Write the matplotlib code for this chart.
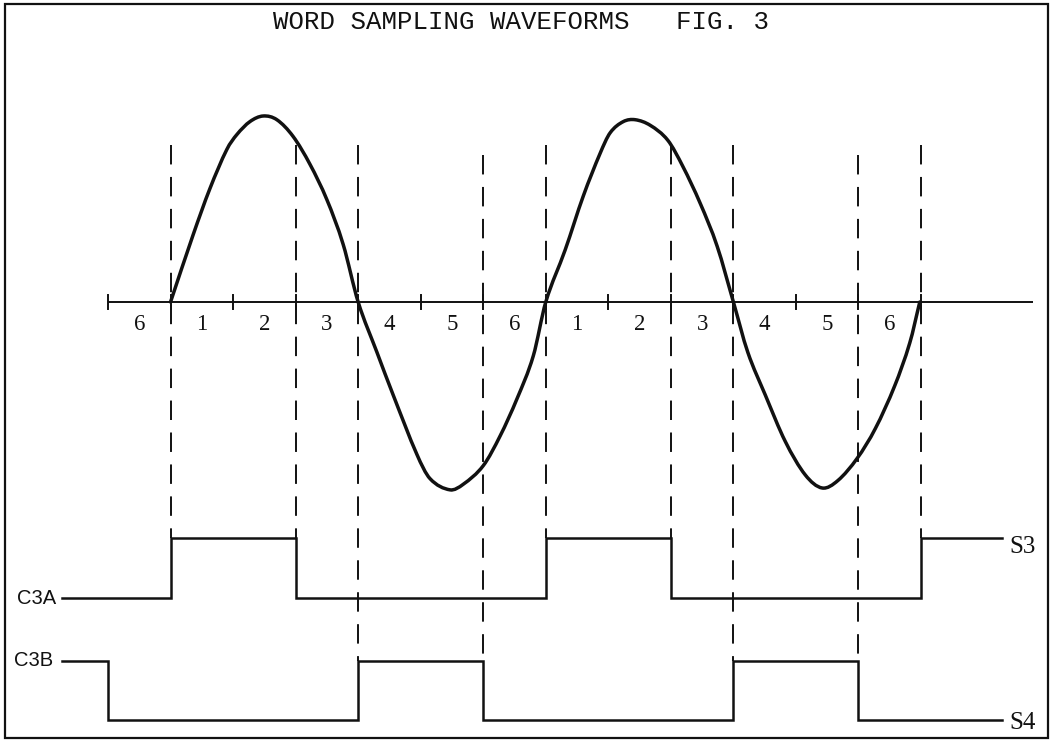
import matplotlib
matplotlib.use("Agg")
import matplotlib.pyplot as plt
from matplotlib.patches import Rectangle, PathPatch
from matplotlib.path import Path

# ---------------- data ----------------
title_text = "WORD SAMPLING WAVEFORMS   FIG. 3"
slot_labels = ['6', '1', '2', '3', '4', '5', '6', '1', '2', '3', '4', '5', '6']
tick_positions = list(range(14))          # slot boundaries on the time axis

# sampled waveform (time in slot units, amplitude relative to peak)
wave_t = [1.00, 1.36, 1.63, 1.90, 2.06, 2.27, 2.48, 2.70, 2.96, 3.23, 3.50, 3.76, 4.00,
          4.30, 4.56, 4.94, 5.15, 5.47, 5.68, 6.00, 6.27, 6.54, 6.80, 7.00,
          7.31, 7.60, 7.87, 8.03, 8.24, 8.43, 8.67, 8.95, 9.19, 9.47, 9.74, 10.00,
          10.23, 10.51, 10.83, 11.15, 11.42, 11.67, 11.98, 12.27, 12.58, 12.82, 12.98]
wave_v = [0.00, 0.36, 0.61, 0.82, 0.90, 0.97, 1.00, 0.98, 0.89, 0.74, 0.55, 0.31, 0.00,
          -0.27, -0.50, -0.82, -0.95, -1.01, -0.98, -0.88, -0.72, -0.52, -0.29, 0.00,
          0.28, 0.57, 0.80, 0.91, 0.97, 0.98, 0.95, 0.87, 0.73, 0.53, 0.30, 0.00,
          -0.27, -0.50, -0.75, -0.93, -1.00, -0.96, -0.84, -0.68, -0.45, -0.22, 0.00]

# sampling gate signals: edge times and logic levels
c3a_edges = [-0.74, 1, 3, 7, 9, 13, 14.30]
c3a_levels = [0, 1, 0, 1, 0, 1]
c3b_edges = [-0.74, 0, 4, 6, 10, 12, 14.30]
c3b_levels = [1, 0, 1, 0, 1, 0]

# dashed sampling markers: (time, which gate they drop to)
marker_times = [1, 3, 4, 6, 7, 9, 10, 12, 13]
marker_gate = ['A', 'A', 'B', 'B', 'A', 'A', 'B', 'B', 'A']

# ---------------- layout / style ----------------
PX_PER_SLOT = 62.54
X0_PX = 108.0
PX_PER_UNIT = 186.0
Y0_PX = 302.0
W, H = 1052, 743

def ypx(py):
    return (Y0_PX - py) / PX_PER_UNIT

A_LOW, A_HIGH = ypx(598), ypx(538)
B_LOW, B_HIGH = ypx(720), ypx(661)

plt.rcParams['lines.scale_dashes'] = False
fig = plt.figure(figsize=(W / 100, H / 100), dpi=100)
ax = fig.add_axes([0, 0, 1, 1])
ax.set_xlim(-X0_PX / PX_PER_SLOT, (W - X0_PX) / PX_PER_SLOT)
ax.set_ylim(ypx(H), ypx(0))
ax.axis('off')

ink = '#111111'

# border
ax.add_patch(Rectangle((5 / W, 1 - 738 / H), (1048 - 5) / W, (738 - 4) / H,
                       transform=ax.transAxes, fill=False, ec=ink, lw=1.6))

# title
ax.text(521 / W, 1 - 22 / H, title_text, transform=ax.transAxes, ha='center', va='center',
        fontsize=18.5, family='Liberation Mono', color=ink)

# time axis
ax.plot([0, (1033 - X0_PX) / PX_PER_SLOT], [0, 0], color=ink, lw=1.4, solid_capstyle='butt')
for t in tick_positions:
    ax.plot([t, t], [-0.035, 0.04], color=ink, lw=1.4)
for i, lab in enumerate(slot_labels):
    ax.text(i + 0.5, ypx(324), lab, ha='center', va='center', fontsize=16.5,
            family='Liberation Serif', color=ink)

# dashed markers
for t, g in zip(marker_times, marker_gate):
    top = ypx(155) if t in (6, 12) else ypx(145)
    bottom = A_HIGH if g == 'A' else B_HIGH
    ax.plot([t, t], [top, bottom], color=ink, lw=1.4, dashes=(14, 9))

# waveform: smooth cubic Hermite curve through the sampled points, as a Bezier path
n = len(wave_t)
slopes = []
for i in range(n):
    a = max(i - 1, 0)
    b = min(i + 1, n - 1)
    slopes.append((wave_v[b] - wave_v[a]) / (wave_t[b] - wave_t[a]))
verts = [(wave_t[0], wave_v[0])]
codes = [Path.MOVETO]
for i in range(n - 1):
    h = wave_t[i + 1] - wave_t[i]
    verts += [(wave_t[i] + h / 3, wave_v[i] + slopes[i] * h / 3),
              (wave_t[i + 1] - h / 3, wave_v[i + 1] - slopes[i + 1] * h / 3),
              (wave_t[i + 1], wave_v[i + 1])]
    codes += [Path.CURVE4] * 3
ax.add_patch(PathPatch(Path(verts, codes), fill=False, ec=ink, lw=2.5,
                       joinstyle='round', capstyle='round'))

# gate signals
def gate(edges, levels, lo, hi):
    xs, ys = [], []
    for i, lv in enumerate(levels):
        y = hi if lv else lo
        xs += [edges[i], edges[i + 1]]
        ys += [y, y]
    ax.plot(xs, ys, color=ink, lw=1.8, solid_joinstyle='miter')

gate(c3a_edges, c3a_levels, A_LOW, A_HIGH)
gate(c3b_edges, c3b_levels, B_LOW, B_HIGH)

ax.text((56 - X0_PX) / PX_PER_SLOT, A_LOW, 'C3A', ha='right', va='center', fontsize=14.5,
        family='Liberation Sans', color=ink)
ax.text((53 - X0_PX) / PX_PER_SLOT, B_HIGH, 'C3B', ha='right', va='center', fontsize=14.5,
        family='Liberation Sans', color=ink)
ax.text((1009 - X0_PX) / PX_PER_SLOT, ypx(547), 'S3', ha='left', va='center', fontsize=18,
        family='Liberation Serif', color=ink)
ax.text((1009 - X0_PX) / PX_PER_SLOT, ypx(723), 'S4', ha='left', va='center', fontsize=18,
        family='Liberation Serif', color=ink)

fig.savefig('out.png', dpi=100, facecolor='white')
